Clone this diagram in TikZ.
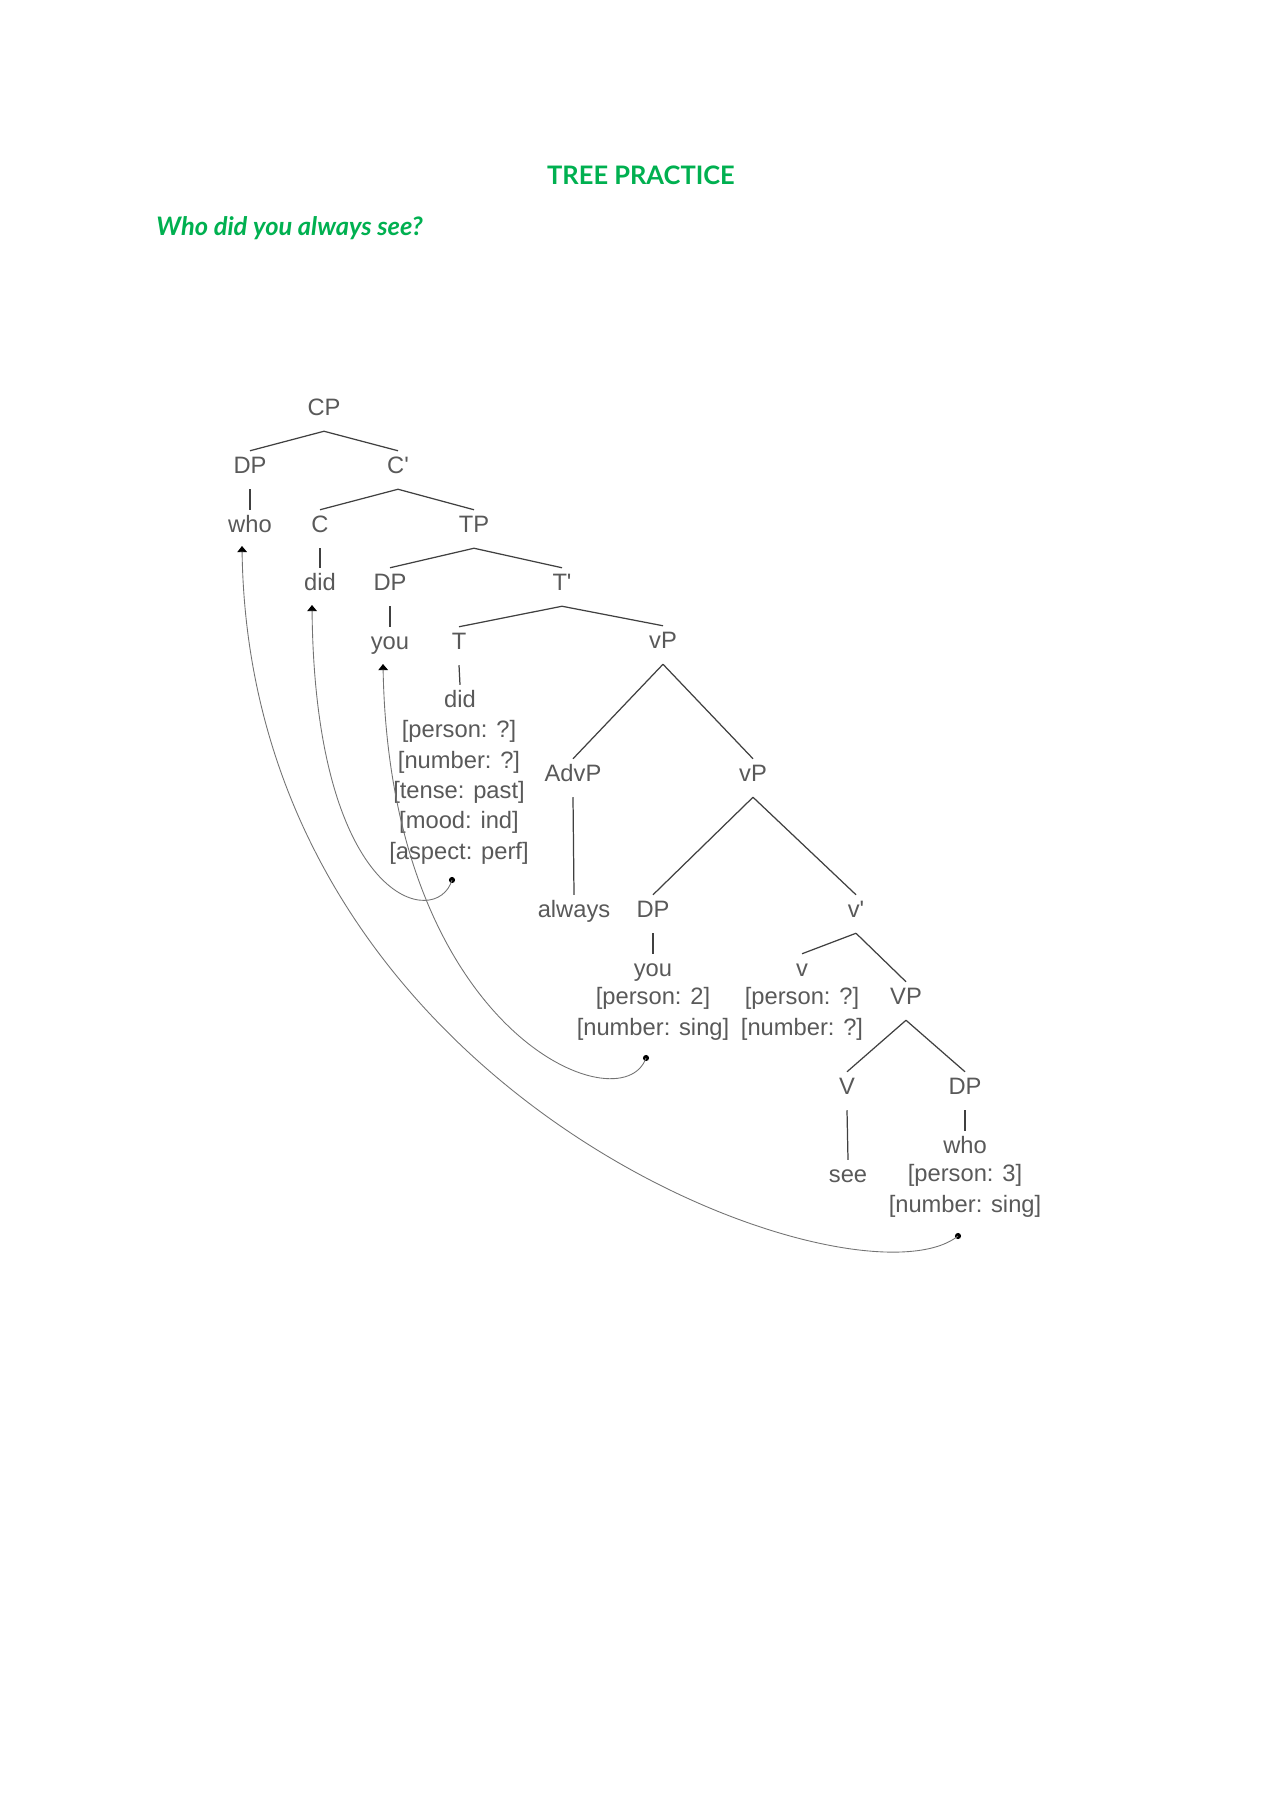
\documentclass[tikz,border=0pt]{standalone}
\usepackage{fontspec}
\setmainfont{Liberation Sans}
\newfontfamily\headfont{Lato}
\usetikzlibrary{arrows.meta}
\definecolor{docgreen}{RGB}{0,176,80}

\begin{document}
\begin{tikzpicture}[x=0.02cm, y=-0.02cm]

\tikzstyle{heading}=[text=docgreen, font=\headfont\bfseries\fontsize{14.5}{17}\selectfont, inner sep=0pt]
\tikzstyle{word}=[text=black!65, font=\fontsize{13.5}{17.35}\selectfont, text height=9.5pt, text depth=6pt, inner xsep=1pt, inner ysep=3pt]
\tikzstyle{feat}=[text=black!65, font=\fontsize{13.5}{17.35}\selectfont, align=center, anchor=north, inner sep=0pt]
\tikzstyle{branch}=[draw=black!75, line width=0.7pt]
\tikzstyle{moveline}=[draw=black!55, line width=0.5pt, -{Triangle[length=3.5pt, width=5.5pt, color=black]}]
\tikzstyle{tracedot}=[circle, fill=black, inner sep=0pt, minimum size=3.5pt]

\useasboundingbox (0,0) rectangle (1280,1811);

\node[heading] (title) at (641,175) {TREE PRACTICE};
\node[heading, anchor=west, font=\headfont\bfseries\itshape\fontsize{14.5}{17}\selectfont] (question) at (156,228) {Who did you always see?};

\node[word] (CP)   at (324,412) {CP};
\node[word] (DPa)  at (250,470) {DP};
\node[word] (Cbar) at (398,470) {C\textquotesingle};
\node[word] (whoA) at (250,529) {who};
\node[word] (C)    at (320,529) {C};
\node[word] (TP)   at (474,529) {TP};
\node[word] (didA) at (320,587) {did};
\node[word] (DPb)  at (390,587) {DP};
\node[word] (Tbar) at (562,587) {T\textquotesingle};
\node[word] (youA) at (390,646) {you};
\node[word] (T)    at (459,646) {T};
\node[word] (vPa)  at (663,645) {vP};
\node[word] (didB) at (460,704) {did};
\node[word] (AdvP) at (573,778) {AdvP};
\node[word] (vPb)  at (753,778) {vP};
\node[word] (always) at (574,914) {always};
\node[word] (DPc)  at (653,914) {DP};
\node[word] (vbar) at (856,914) {v\textquotesingle};
\node[word] (youB) at (653,973) {you};
\node[word] (v)    at (802,973) {v};
\node[word] (VP)   at (906,1001) {VP};
\node[word] (V)    at (847,1091) {V};
\node[word] (DPd)  at (965,1091) {DP};
\node[word] (see)  at (848,1179) {see};
\node[word] (whoB) at (965,1150) {who};

\node[feat] (didBfeat) at (459,720) {{[person: ?]}\\{[number: ?]}\\{[tense: past]}\\{[mood: ind]}\\{[aspect: perf]}};
\node[feat] (youBfeat) at (653,987) {{[person: 2]}\\{[number: sing]}};
\node[feat] (vfeat)    at (802,987) {{[person: ?]}\\{[number: ?]}};
\node[feat] (whoBfeat) at (965,1164) {{[person: 3]}\\{[number: sing]}};

\node[tracedot] (dot1) at (452,880) {};
\node[tracedot] (dot2) at (646,1058) {};
\node[tracedot] (dot3) at (958,1236) {};

\coordinate (arrwho) at (242,546);
\coordinate (arrdid) at (312,605);
\coordinate (arryou) at (383,664);

\draw[branch] (CP.south) -- (DPa.north);
\draw[branch] (CP.south) -- (Cbar.north);
\draw[branch] (DPa.south) -- (whoA.north);
\draw[branch] (Cbar.south) -- (C.north);
\draw[branch] (Cbar.south) -- (TP.north);
\draw[branch] (C.south) -- (didA.north);
\draw[branch] (TP.south) -- (DPb.north);
\draw[branch] (TP.south) -- (Tbar.north);
\draw[branch] (DPb.south) -- (youA.north);
\draw[branch] (Tbar.south) -- (T.north);
\draw[branch] (Tbar.south) -- (vPa.north);
\draw[branch] (T.south) -- (didB.north);
\draw[branch] (vPa.south) -- (AdvP.north);
\draw[branch] (vPa.south) -- (vPb.north);
\draw[branch] (AdvP.south) -- (always.north);
\draw[branch] (vPb.south) -- (DPc.north);
\draw[branch] (vPb.south) -- (vbar.north);
\draw[branch] (DPc.south) -- (youB.north);
\draw[branch] (vbar.south) -- (v.north);
\draw[branch] (vbar.south) -- (VP.north);
\draw[branch] (VP.south) -- (V.north);
\draw[branch] (VP.south) -- (DPd.north);
\draw[branch] (V.south) -- (see.north);
\draw[branch] (DPd.south) -- (whoB.north);

\draw[moveline] (dot1.center) .. controls +(-15,50) and +(3,300) .. (arrdid);
\draw[moveline] (dot2.center) .. controls +(-24,68) and +(7,370) .. (arryou);
\draw[moveline] (dot3.center) .. controls +(-100,80) and +(8,554) .. (arrwho);

\end{tikzpicture}
\end{document}
